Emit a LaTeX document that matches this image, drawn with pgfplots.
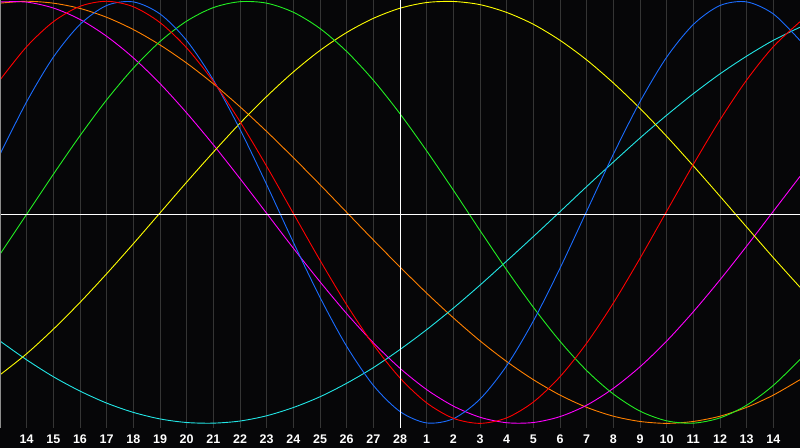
\documentclass[border=0pt]{standalone}
\usepackage{pgfplots}
\pgfplotsset{compat=1.18}
\usepackage{fontspec}
\setmainfont{Liberation Sans}

\definecolor{bg}{HTML}{060608}
\definecolor{gridc}{HTML}{343434}
\definecolor{frame}{HTML}{8C8C8C}
\definecolor{cred}{HTML}{FF0000}
\definecolor{cgreen}{HTML}{22EE22}
\definecolor{cblue}{HTML}{1A6CFF}
\definecolor{cyellow}{HTML}{FFFF00}
\definecolor{ccyan}{HTML}{22E6E6}
\definecolor{cmagenta}{HTML}{FF00FF}
\definecolor{corange}{HTML}{FF8000}

% day index (0..30) and seven cycle values
\pgfplotstableread{
t  red    green  blue   yellow cyan   magenta orange
0  0.627  -0.199 0.275  -0.770 -0.610 0.997   0.991
1  0.785  -0.009 0.524  -0.670 -0.699 0.996   1.000
2  0.903  0.180  0.735  -0.554 -0.779 0.968   0.991
3  0.976  0.363  0.890  -0.427 -0.847 0.914   0.966
4  1.000  0.533  0.980  -0.291 -0.904 0.834   0.924
5  0.974  0.683  0.997  -0.149 -0.948 0.732   0.866
6  0.899  0.809  0.940  -0.003 -0.979 0.610   0.793
7  0.779  0.906  0.814  0.143  -0.996 0.471   0.707
8  0.620  0.970  0.627  0.285  -0.999 0.320   0.609
9  0.430  0.998  0.393  0.422  -0.989 0.160   0.500
10 0.218  0.991  0.131  0.549  -0.964 -0.005  0.383
11 -0.005 0.948  -0.142 0.665  -0.925 -0.170  0.259
12 -0.227 0.871  -0.403 0.767  -0.874 -0.329  0.131
13 -0.438 0.762  -0.635 0.852  -0.810 -0.480  0.000
14 -0.627 0.626  -0.820 0.919  -0.736 -0.618  -0.131
15 -0.785 0.467  -0.944 0.967  -0.650 -0.739  -0.259
16 -0.903 0.291  -0.998 0.994  -0.556 -0.840  -0.383
17 -0.976 0.105  -0.978 0.999  -0.454 -0.918  -0.500
18 -1.000 -0.086 -0.885 0.984  -0.345 -0.971  -0.609
19 -0.974 -0.273 -0.727 0.947  -0.231 -0.997  -0.707
20 -0.899 -0.450 -0.515 0.891  -0.115 -0.996  -0.793
21 -0.779 -0.611 -0.265 0.815  0.003  -0.968  -0.866
22 -0.620 -0.750 0.005  0.722  0.122  -0.914  -0.924
23 -0.430 -0.861 0.275  0.613  0.238  -0.834  -0.966
24 -0.218 -0.942 0.524  0.492  0.352  -0.732  -0.991
25 0.005  -0.988 0.735  0.360  0.460  -0.610  -1.000
26 0.227  -0.999 0.890  0.220  0.562  -0.471  -0.991
27 0.438  -0.974 0.980  0.076  0.656  -0.320  -0.966
28 0.627  -0.914 0.997  -0.070 0.740  -0.160  -0.924
29 0.785  -0.820 0.940  -0.215 0.815  0.005   -0.866
30 0.903  -0.697 0.814  -0.355 0.877  0.170   -0.793
}\cycles

\begin{document}
\begin{tikzpicture}
\fill[bg] (0,-20bp) rectangle (800bp,428bp);
\begin{axis}[
  at={(0,0)}, anchor=south west,
  width=800bp, height=428bp, scale only axis,
  xmin=0, xmax=30, ymin=-1.022, ymax=1.006,
  axis background/.style={fill=bg},
  axis line style={draw=none},
  xtick={1,...,29},
  xticklabels={14,15,16,17,18,19,20,21,22,23,24,25,26,27,28,1,2,3,4,5,6,7,8,9,10,11,12,13,14},
  ytick=\empty,
  major tick length=0pt,
  xmajorgrids,
  major grid style={draw=gridc, line width=1bp},
  xticklabel style={anchor=center, yshift=-11.3bp, text=white,
    font=\fontsize{12.5bp}{14bp}\selectfont\bfseries},
  every axis plot/.append style={line width=0.9bp, smooth},
  clip=true,
]
\addplot[corange]  table[x=t, y=orange]  {\cycles};
\addplot[cmagenta] table[x=t, y=magenta] {\cycles};
\addplot[ccyan]    table[x=t, y=cyan]    {\cycles};
\addplot[cyellow]  table[x=t, y=yellow]  {\cycles};
\addplot[cgreen]   table[x=t, y=green]   {\cycles};
\addplot[cblue]    table[x=t, y=blue]    {\cycles};
\addplot[cred]     table[x=t, y=red]     {\cycles};
% white cross at today / zero line
\addplot[white, line width=0.9bp, no marks, sharp plot] coordinates {(15,-1.022) (15,1.006)};
\addplot[white, line width=0.9bp, no marks, sharp plot] coordinates {(0,-0.008) (30,-0.008)};
\draw[frame, line width=1bp] (rel axis cs:0,0) rectangle (rel axis cs:1,1);
\end{axis}
\pgfresetboundingbox
\useasboundingbox (0,-20bp) rectangle (800bp,428bp);
\end{tikzpicture}
\end{document}
